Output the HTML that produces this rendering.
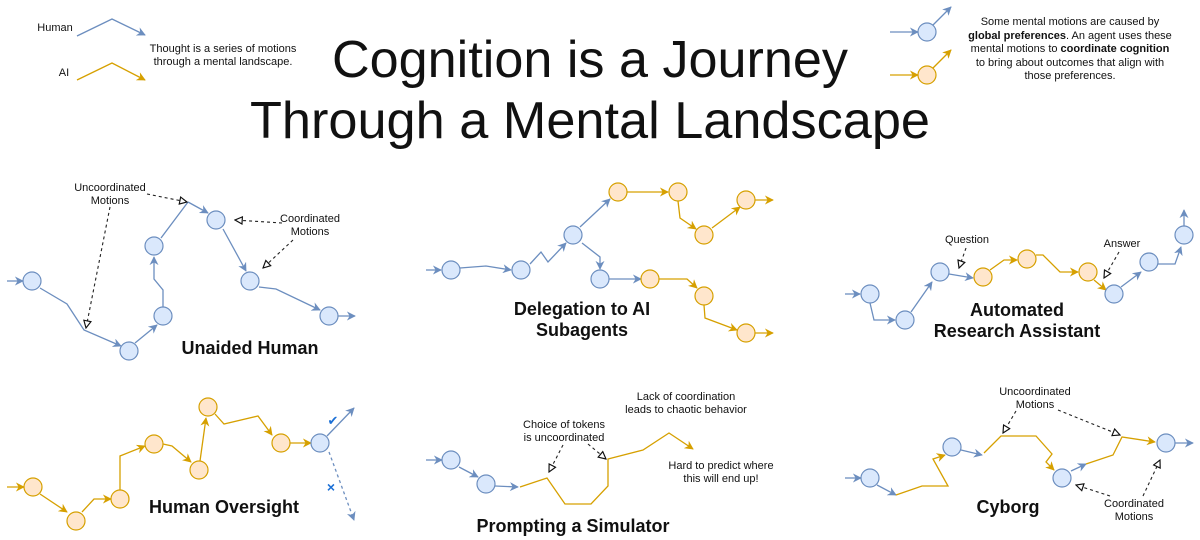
<!DOCTYPE html>
<html><head><meta charset="utf-8"><style>html,body{margin:0;padding:0;background:#fff}svg{display:block}text{font-family:"Liberation Sans",sans-serif;fill:#111}</style></head><body>
<svg width="1200" height="540" viewBox="0 0 1200 540" xmlns="http://www.w3.org/2000/svg">
<defs>
<marker id="ab" viewBox="0 0 10 10" refX="9" refY="5" markerWidth="9" markerHeight="9" markerUnits="userSpaceOnUse" orient="auto"><path d="M0,0 L10,5 L0,10 L3,5 z" fill="#6c8ebf"/></marker>
<marker id="ao" viewBox="0 0 10 10" refX="9" refY="5" markerWidth="9" markerHeight="9" markerUnits="userSpaceOnUse" orient="auto"><path d="M0,0 L10,5 L0,10 L3,5 z" fill="#d6a000"/></marker>
<marker id="at" viewBox="0 0 10 10" refX="9" refY="5" markerWidth="9" markerHeight="9" markerUnits="userSpaceOnUse" orient="auto"><path d="M1,1 L9,5 L1,9 z" fill="#fff" stroke="#111" stroke-width="1.3"/></marker>
</defs>
<style>
.b{fill:none;stroke:#6c8ebf;stroke-width:1.3;marker-end:url(#ab)}
.bn{fill:none;stroke:#6c8ebf;stroke-width:1.3}
.o{fill:none;stroke:#d6a000;stroke-width:1.3;marker-end:url(#ao)}
.on{fill:none;stroke:#d6a000;stroke-width:1.3}
.d{fill:none;stroke:#222;stroke-width:1.1;stroke-dasharray:3,3;marker-end:url(#at)}
.cb{fill:#dae8fc;stroke:#6c8ebf;stroke-width:1.2}
.co{fill:#ffe6cc;stroke:#d6a000;stroke-width:1.2}
.s{font-size:11px;text-anchor:middle}
.t{font-size:18px;font-weight:bold;text-anchor:middle}
</style>
<!-- header -->
<text x="55" y="31" class="s">Human</text>
<text x="64" y="76" class="s">AI</text>
<path class="b" d="M77,36 L112,19 L145,35"/>
<path class="o" d="M77,80 L112,63 L145,80"/>
<text x="223" y="52" class="s">Thought is a series of motions</text>
<text x="223" y="65" class="s">through a mental landscape.</text>
<text x="590" y="77" font-size="52" text-anchor="middle" textLength="516" lengthAdjust="spacingAndGlyphs">Cognition is a Journey</text>
<text x="590" y="138" font-size="52" text-anchor="middle" textLength="680" lengthAdjust="spacingAndGlyphs">Through a Mental Landscape</text>
<path class="b" d="M890,32 L918,32"/><path class="b" d="M933,25 L951,7"/><circle class="cb" cx="927" cy="32" r="9"/>
<path class="o" d="M890,75 L918,75"/><path class="o" d="M933,68 L951,50"/><circle class="co" cx="927" cy="75" r="9"/>
<text x="1070" y="25" class="s">Some mental motions are caused by</text>
<text x="1070" y="39" class="s"><tspan font-weight="bold">global preferences</tspan>. An agent uses these</text>
<text x="1070" y="52" class="s">mental motions to <tspan font-weight="bold">coordinate cognition</tspan></text>
<text x="1070" y="66" class="s">to bring about outcomes that align with</text>
<text x="1070" y="79" class="s">those preferences.</text>

<!-- panel 1 -->
<path class="b" d="M7,281 L23,281"/>
<path class="b" d="M40,288 L67,304 L84,330 L121,346"/>
<path class="b" d="M135,343 L157,325"/>
<path class="b" d="M163,307 L163,290 L154,279 L154,257"/>
<path class="bn" d="M161,238 L188,202"/><path class="b" d="M188,202 L208,213"/>
<path class="b" d="M223,229 L246,271"/>
<path class="b" d="M259,287 L276,289 L320,310"/>
<path class="b" d="M338,316 L355,316"/>
<circle class="cb" cx="32" cy="281" r="9"/><circle class="cb" cx="129" cy="351" r="9"/><circle class="cb" cx="163" cy="316" r="9"/><circle class="cb" cx="154" cy="246" r="9"/><circle class="cb" cx="216" cy="220" r="9"/><circle class="cb" cx="250" cy="281" r="9"/><circle class="cb" cx="329" cy="316" r="9"/>
<text x="110" y="191" class="s">Uncoordinated</text><text x="110" y="204" class="s">Motions</text>
<path class="d" d="M110,207 L86,328"/><path class="d" d="M147,194 L187,202"/>
<text x="310" y="222" class="s">Coordinated</text><text x="310" y="235" class="s">Motions</text>
<path class="d" d="M282,223 L235,220"/><path class="d" d="M293,240 L263,268"/>
<text x="250" y="354" class="t">Unaided Human</text>

<!-- panel 2 -->
<path class="b" d="M426,270 L441,270"/>
<path class="b" d="M460,268 L486,266 L511,270"/>
<path class="b" d="M530,264 L541,252 L548,262 L566,243"/>
<path class="b" d="M580,227 L610,199"/>
<path class="b" d="M582,243 L600,257 L600,269"/>
<path class="b" d="M609,279 L641,279"/>
<path class="o" d="M627,192 L668,192"/>
<path class="o" d="M678,201 L680,218 L696,229"/>
<path class="o" d="M712,228 L740,207"/>
<path class="o" d="M755,200 L773,200"/>
<path class="o" d="M659,279 L687,279 L697,288"/>
<path class="o" d="M704,305 L705,318 L737,330"/>
<path class="o" d="M755,333 L773,333"/>
<circle class="cb" cx="451" cy="270" r="9"/><circle class="cb" cx="521" cy="270" r="9"/><circle class="cb" cx="573" cy="235" r="9"/><circle class="cb" cx="600" cy="279" r="9"/>
<circle class="co" cx="618" cy="192" r="9"/><circle class="co" cx="678" cy="192" r="9"/><circle class="co" cx="704" cy="235" r="9"/><circle class="co" cx="746" cy="200" r="9"/><circle class="co" cx="650" cy="279" r="9"/><circle class="co" cx="704" cy="296" r="9"/><circle class="co" cx="746" cy="333" r="9"/>
<text x="582" y="315" class="t">Delegation to AI</text><text x="582" y="336" class="t">Subagents</text>

<!-- panel 3 -->
<path class="b" d="M845,294 L860,294"/>
<path class="b" d="M870,303 L874,320 L895,320"/>
<path class="b" d="M911,312 L932,282"/>
<path class="b" d="M949,274 L973,278"/>
<path class="o" d="M990,270 L1004,260 L1017,260"/>
<path class="o" d="M1036,255 L1043,255 L1060,272 L1078,272"/>
<path class="o" d="M1094,280 L1106,290"/>
<path class="b" d="M1121,287 L1141,272"/>
<path class="b" d="M1158,264 L1175,264 L1181,247"/>
<path class="b" d="M1184,226 L1184,210"/>
<circle class="cb" cx="870" cy="294" r="9"/><circle class="cb" cx="905" cy="320" r="9"/><circle class="cb" cx="940" cy="272" r="9"/><circle class="cb" cx="1114" cy="294" r="9"/><circle class="cb" cx="1149" cy="262" r="9"/><circle class="cb" cx="1184" cy="235" r="9"/>
<circle class="co" cx="983" cy="277" r="9"/><circle class="co" cx="1027" cy="259" r="9"/><circle class="co" cx="1088" cy="272" r="9"/>
<text x="967" y="243" class="s">Question</text><path class="d" d="M966,248 L959,268"/>
<text x="1122" y="247" class="s">Answer</text><path class="d" d="M1119,252 L1104,278"/>
<text x="1017" y="316" class="t">Automated</text><text x="1017" y="337" class="t">Research Assistant</text>

<!-- panel 4 -->
<path class="o" d="M7,487 L24,487"/>
<path class="o" d="M40,494 L67,512"/>
<path class="o" d="M82,512 L94,499 L111,499"/>
<path class="o" d="M120,490 L120,456 L145,446"/>
<path class="o" d="M163,444 L172,446 L191,462"/>
<path class="o" d="M200,461 L206,418"/>
<path class="o" d="M215,414 L224,424 L258,416 L272,435"/>
<path class="o" d="M290,443 L311,443"/>
<circle class="co" cx="33" cy="487" r="9"/><circle class="co" cx="76" cy="521" r="9"/><circle class="co" cx="120" cy="499" r="9"/><circle class="co" cx="154" cy="444" r="9"/><circle class="co" cx="199" cy="470" r="9"/><circle class="co" cx="208" cy="407" r="9"/><circle class="co" cx="281" cy="443" r="9"/>
<path class="b" d="M327,436 L354,408"/>
<path class="b" d="M329,452 L354,520" stroke-dasharray="3,3"/>
<circle class="cb" cx="320" cy="443" r="9"/>
<text x="333" y="425" font-size="13" fill="#1a6fd6" text-anchor="middle" style="fill:#1a6fd6">✔</text>
<text x="331" y="492" font-size="14" text-anchor="middle" style="fill:#1a6fd6;font-weight:bold">×</text>
<text x="224" y="513" class="t">Human Oversight</text>

<!-- panel 5 -->
<path class="b" d="M426,460 L442,460"/>
<path class="b" d="M459,467 L478,477"/>
<path class="b" d="M495,486 L518,487"/>
<path class="o" d="M520,487 L547,478 L565,504 L591,504 L608,486 L608,459 L643,450 L669,433 L693,449"/>
<circle class="cb" cx="451" cy="460" r="9"/><circle class="cb" cx="486" cy="484" r="9"/>
<text x="564" y="428" class="s">Choice of tokens</text><text x="564" y="441" class="s">is uncoordinated</text>
<path class="d" d="M563,445 L549,472"/><path class="d" d="M588,444 L606,459"/>
<text x="686" y="400" class="s">Lack of coordination</text><text x="686" y="413" class="s">leads to chaotic behavior</text>
<text x="721" y="469" class="s">Hard to predict where</text><text x="721" y="482" class="s">this will end up!</text>
<text x="573" y="532" class="t">Prompting a Simulator</text>

<!-- panel 6 -->
<path class="b" d="M845,478 L861,478"/>
<path class="b" d="M877,485 L896,495"/>
<path class="o" d="M896,495 L922,486 L948,486 L933,459 L945,455"/>
<path class="b" d="M961,450 L982,455"/>
<path class="o" d="M984,453 L1001,436 L1036,436 L1052,454 L1046,462 L1054,470"/>
<path class="b" d="M1071,471 L1086,464"/>
<path class="o" d="M1086,464 L1113,455 L1122,437 L1155,442"/>
<path class="b" d="M1175,443 L1193,443"/>
<circle class="cb" cx="870" cy="478" r="9"/><circle class="cb" cx="952" cy="447" r="9"/><circle class="cb" cx="1062" cy="478" r="9"/><circle class="cb" cx="1166" cy="443" r="9"/>
<text x="1035" y="395" class="s">Uncoordinated</text><text x="1035" y="408" class="s">Motions</text>
<path class="d" d="M1016,411 L1003,433"/><path class="d" d="M1058,410 L1120,435"/>
<text x="1134" y="507" class="s">Coordinated</text><text x="1134" y="520" class="s">Motions</text>
<path class="d" d="M1110,496 L1076,485"/><path class="d" d="M1143,496 L1160,460"/>
<text x="1008" y="513" class="t">Cyborg</text>
</svg>
</body></html>
